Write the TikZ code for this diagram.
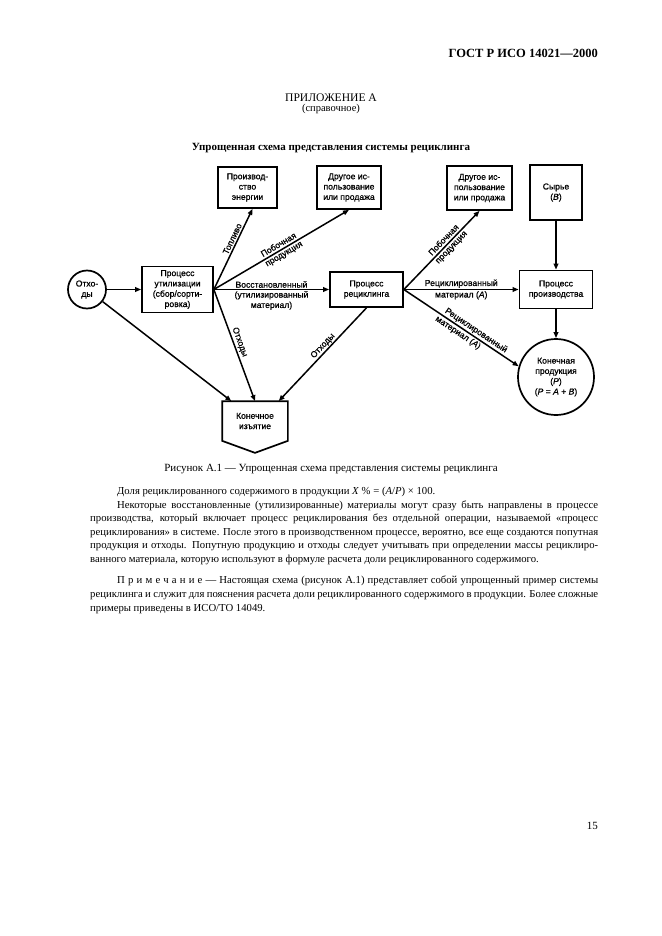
\documentclass[tikz,border=0pt]{standalone}
\usepackage{fontspec}
\setmainfont{Liberation Serif}
\newfontfamily\diagfont{Liberation Sans}[FakeBold=0.8]
\usetikzlibrary{arrows.meta,calc}
\begin{document}
\begin{tikzpicture}[x=1pt,y=-1pt,
  box/.style={draw, line width=1.7pt, font=\diagfont\fontsize{8.6}{10.3}\selectfont, align=center, inner sep=0pt},
  conn/.style={line width=1.5pt, -{Triangle[length=6pt,width=4.6pt]}},
  lbl/.style={font=\diagfont\fontsize{8.6}{10.3}\selectfont, align=center, inner sep=1.5pt},
  pagetext/.style={font=\fontsize{10.7}{13.6}\selectfont, inner sep=0pt},
]
\useasboundingbox[fill=white] (0,0) rectangle (661,936);

% header texts
\node[pagetext, anchor=base east, font=\bfseries\fontsize{12.5}{14}\selectfont] (hdr) at (598,58) {ГОСТ Р ИСО 14021—2000};
\node[pagetext, anchor=base, font=\fontsize{11.6}{13}\selectfont] (app) at (331,101.5) {ПРИЛОЖЕНИЕ А};
\node[pagetext, anchor=base, font=\fontsize{10.5}{12}\selectfont] (ref) at (331,112) {(справочное)};
\node[pagetext, anchor=base, font=\bfseries\fontsize{11}{13}\selectfont] (ttl) at (331,150.5) {Упрощенная схема представления системы рециклинга};

% diagram nodes
\node[box, circle, minimum size=38pt] (waste) at (87,289.5) {Отхо-\\ды};
\node[box, minimum width=71pt, minimum height=46pt] (util) at (177.5,289.5) {Процесс\\утилизации\\(сбор/сорти-\\ровка)};
\node[box, minimum width=59pt, minimum height=41pt] (energy) at (247.5,187.5) {Производ-\\ство\\энергии};
\node[box, minimum width=64pt, minimum height=43pt] (other1) at (349,187.5) {Другое ис-\\пользование\\или продажа};
\node[box, minimum width=73pt, minimum height=35pt] (recyc) at (366.5,289.5) {Процесс\\рециклинга};
\node[box, minimum width=65pt, minimum height=44pt] (other2) at (479.5,188) {Другое ис-\\пользование\\или продажа};
\node[box, minimum width=52pt, minimum height=55pt] (raw) at (556,192.5) {Сырье\\(\textit{B})};
\node[box, minimum width=73pt, minimum height=38pt] (prod) at (556,289.5) {Процесс\\производства};
\node[box, circle, minimum size=76pt] (final) at (556,377) {Конечная\\продукция\\(\textit{P})\\(\textit{P} = \textit{A} + \textit{B})};
\node[box, draw=none, minimum width=64pt, minimum height=38pt] (disp) at (255,421) {Конечное\\изъятие};
\draw[line width=1.7pt, line join=miter] (disp.north west) -- (disp.north east) -- (disp.south east)
  -- ($(disp.south)+(0,12)$) -- (disp.south west) -- cycle;
\coordinate (dA) at ($(disp.north west)!0.14!(disp.north east)$);
\coordinate (dB) at ($(disp.north west)!0.5!(disp.north east)$);
\coordinate (dC) at ($(disp.north west)!0.86!(disp.north east)$);

% connectors
\draw[conn] (waste) -- (util);
\draw[conn] (waste) -- (dA);
\draw[conn] (util.east) -- node[lbl, sloped, above, pos=0.6] {Топливо} ($(energy.south)+(5,0)$);
\draw[conn] (util.east) -- node[lbl, sloped, pos=0.5, inner sep=0pt] {Побочная\\продукция} (other1.south);
\draw[conn] (util.east) -- node[lbl, above, inner sep=1pt] {Восстановленный}
  node[lbl, below, inner sep=1pt] {(утилизированный\\материал)} (recyc.west);
\draw[conn] (util.east) -- node[lbl, sloped, above, pos=0.49] {Отходы} (dB);
\draw[conn] (recyc.south) -- (dC);
\path (dC) -- node[lbl, sloped, above, pos=0.55] {Отходы} (recyc.south);
\draw[conn] (recyc.east) -- node[lbl, sloped, pos=0.58, inner sep=0pt] {Побочная\\продукция} (other2.south);
\draw[conn] (recyc.east) -- node[lbl, above, inner sep=1pt] {Рециклированный}
  node[lbl, below, inner sep=1pt] {материал (\textit{A})} (prod.west);
\draw[conn] (recyc.east) -- node[lbl, sloped, above, pos=0.6, inner sep=1.2pt] {Рециклированный}
  node[lbl, sloped, below, pos=0.5, inner sep=1.2pt] {материал (\textit{A})} (final.164);
\draw[conn] (raw) -- (prod);
\draw[conn] (prod) -- (final);

% caption and body
\node[pagetext, anchor=base, font=\fontsize{11}{13}\selectfont] (cap) at (331,471) {Рисунок А.1 — Упрощенная схема представления системы рециклинга};

\node[pagetext, anchor=north west, text width=508pt, align=justify] (body) at (90,486.8)
{\hyphenpenalty=10000\emergencystretch=20pt \hspace*{27pt}Доля рециклированного содержимого в продукции \textit{X}~\% = (\textit{A}/\textit{P}) × 100.\par
\hspace*{27pt}Некоторые восстановленные (утилизированные) материалы могут сразу быть направлены в процессе\linebreak
производства, который включает процесс рециклирования без отдельной операции, называемой «процесс\linebreak
рециклирования» в системе. После этого в производственном процессе, вероятно, все еще создаются попутная\linebreak
продукция и отходы. Попутную продукцию и отходы следует учитывать при определении массы рециклиро-\linebreak
ванного материала, которую используют в формуле расчета доли рециклированного содержимого.\par};

\node[pagetext, anchor=north west, text width=508pt, align=justify] (note) at (90,576)
{\hyphenpenalty=10000\emergencystretch=20pt \hspace*{27pt}{\addfontfeature{LetterSpace=30}Примечание}~— Настоящая схема (рисунок А.1) представляет собой упрощенный пример системы\linebreak
рециклинга и служит для пояснения расчета доли рециклированного содержимого в продукции. Более сложные\linebreak
примеры приведены в ИСО/ТО 14049.\par};

\node[pagetext, anchor=base east, font=\fontsize{11}{13}\selectfont] (pg) at (598,829) {15};
\end{tikzpicture}
\end{document}
